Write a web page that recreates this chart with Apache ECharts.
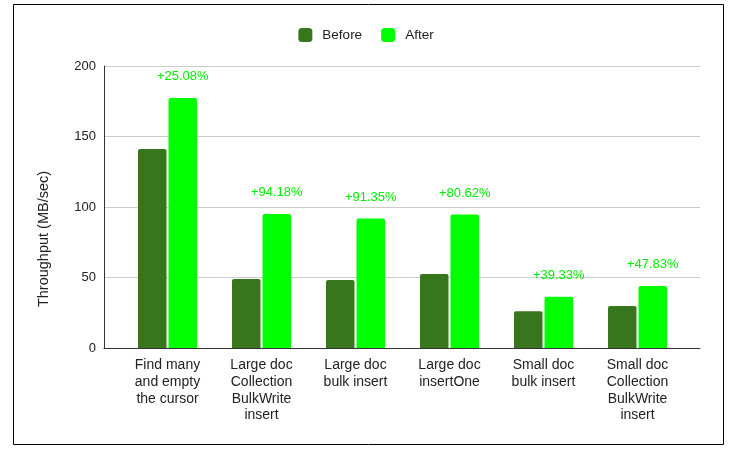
<!DOCTYPE html>
<html>
<head>
<meta charset="utf-8">
<script src="https://cdn.jsdelivr.net/npm/echarts@6/dist/echarts.min.js"></script>
<style>
  html, body { margin: 0; padding: 0; background: #fff; }
  #main { width: 732px; height: 456px; }
</style>
</head>
<body>
<div id="main"></div>
<script>
var categories = [
    'Find many\nand empty\nthe cursor',
    'Large doc\nCollection\nBulkWrite\ninsert',
    'Large doc\nbulk insert',
    'Large doc\ninsertOne',
    'Small doc\nbulk insert',
    'Small doc\nCollection\nBulkWrite\ninsert'
];
var beforeData = [141.1, 48.9, 48.2, 52.4, 26.1, 29.7];
var afterData = [177.3, 95.0, 91.8, 94.6, 36.3, 43.9];
var gainLabels = ['+25.08%', '+94.18%', '+91.35%', '+80.62%', '+39.33%', '+47.83%'];

var font = 'Liberation Sans, Arial, sans-serif';
var chart = echarts.init(document.getElementById('main'));

// grid 0 carries the axes and gridlines, grid 1 is inset a bit and carries the bars
chart.setOption({
    animation: false,
    textStyle: { fontFamily: font },
    graphic: [{
        type: 'rect',
        shape: { x: 13.5, y: 4.5, width: 710, height: 440 },
        style: { fill: 'none', stroke: '#000', lineWidth: 1 },
        silent: true
    }],
    legend: {
        top: 23,
        left: 'center',
        itemWidth: 14,
        itemHeight: 14,
        itemGap: 19,
        textStyle: { fontSize: 13.5, color: '#222', fontFamily: font, padding: [0, 0, 0, 5] },
        data: ['Before', 'After']
    },
    grid: [
        { left: 104, right: 32, top: 66, bottom: 108 },
        { left: 120.5, right: 47.5, top: 66, bottom: 108 }
    ],
    xAxis: [{
        type: 'value',
        gridIndex: 0,
        min: 0,
        max: 1,
        axisLine: { show: true, onZero: false, lineStyle: { color: '#333' } },
        axisTick: { show: false },
        axisLabel: { show: false },
        splitLine: { show: false }
    }, {
        type: 'category',
        gridIndex: 1,
        data: categories,
        axisLine: { show: false },
        axisTick: { show: false },
        axisLabel: {
            interval: 0,
            margin: 9,
            fontSize: 14,
            lineHeight: 16.7,
            color: '#222',
            fontFamily: font
        }
    }],
    yAxis: [{
        type: 'value',
        gridIndex: 0,
        min: 0,
        max: 200,
        interval: 50,
        name: 'Throughput (MB/sec)',
        nameLocation: 'middle',
        nameGap: 53,
        nameTextStyle: { fontSize: 14.5, color: '#222', fontFamily: font, padding: [0, 64, 0, 0] },
        axisLine: { show: true, lineStyle: { color: '#333' } },
        axisTick: { show: false },
        axisLabel: { fontSize: 13, color: '#222', margin: 8, fontFamily: font },
        splitLine: { lineStyle: { color: '#ccc' } }
    }, {
        type: 'value',
        gridIndex: 1,
        min: 0,
        max: 200,
        interval: 50,
        show: false,
        splitLine: { show: false }
    }],
    series: [{
        name: 'Before',
        type: 'bar',
        xAxisIndex: 1,
        yAxisIndex: 1,
        data: beforeData,
        barWidth: 28.5,
        barGap: '7%',
        itemStyle: { color: '#38761d', borderRadius: [2, 2, 0, 0] }
    }, {
        name: 'After',
        type: 'bar',
        xAxisIndex: 1,
        yAxisIndex: 1,
        data: afterData,
        barWidth: 28.5,
        itemStyle: { color: '#00ff00', borderRadius: [2, 2, 0, 0] },
        label: {
            show: true,
            position: 'top',
            distance: 15,
            fontSize: 13,
            color: '#00ee00',
            fontFamily: font,
            formatter: function (p) { return gainLabels[p.dataIndex]; }
        }
    }]
});
</script>
</body>
</html>
